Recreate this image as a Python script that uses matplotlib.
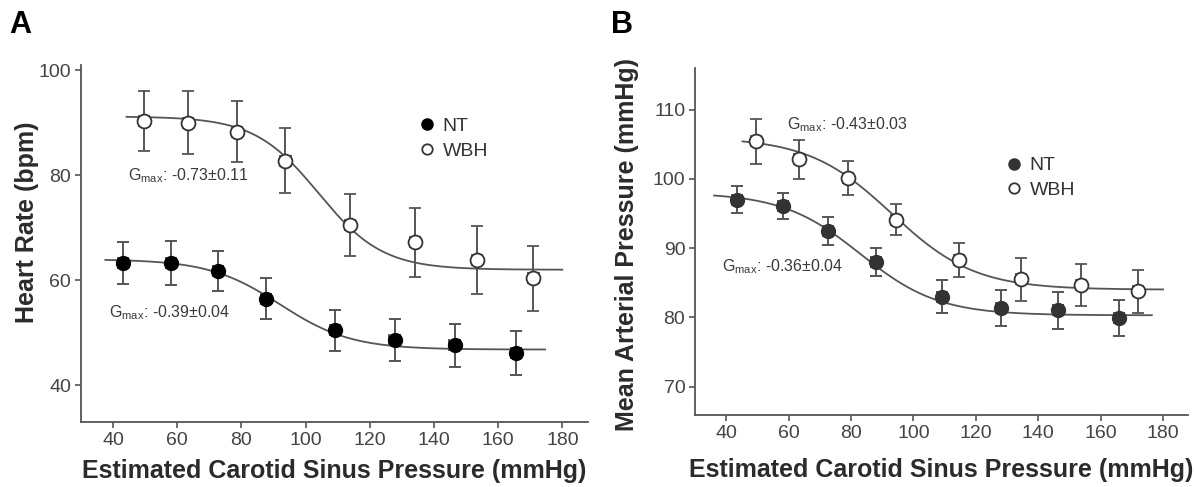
import numpy as np
import matplotlib
matplotlib.use('Agg')
import matplotlib.pyplot as plt
from matplotlib.lines import Line2D

plt.rcParams['font.family'] = ['Liberation Sans', 'DejaVu Sans']
plt.rcParams['mathtext.fontset'] = 'custom'
plt.rcParams['mathtext.rm'] = 'Liberation Sans'
plt.rcParams['mathtext.default'] = 'regular'

# ---- Panel A: heart rate ----
hr_nt_x = [43.2, 58.1, 72.6, 87.7, 109.1, 127.7, 146.4, 165.6]
hr_nt_y = [63.3, 63.2, 61.8, 56.5, 50.5, 48.6, 47.6, 46.1]
hr_nt_err = [4.0, 4.2, 3.8, 3.9, 3.9, 4.0, 4.1, 4.2]
hr_wbh_x = [49.6, 63.4, 78.7, 93.7, 113.9, 134.0, 153.3, 171.0]
hr_wbh_y = [90.3, 90.0, 88.3, 82.8, 70.5, 67.2, 63.9, 60.4]
hr_wbh_err = [5.7, 6.0, 5.8, 6.2, 5.9, 6.5, 6.5, 6.2]
# logistic fit: top, bottom, x50, slope, x range
hr_nt_fit = [64.0, 46.8, 92.0, 0.09, 37.6, 174.6]
hr_wbh_fit = [91.2, 62.0, 104.0, 0.10, 44.2, 180.0]

# ---- Panel B: mean arterial pressure ----
map_nt_x = [43.4, 58.1, 72.6, 88.0, 109.2, 127.9, 146.3, 165.9]
map_nt_y = [97.0, 96.1, 92.5, 88.0, 83.0, 81.4, 81.0, 79.9]
map_nt_err = [2.0, 1.9, 2.0, 2.0, 2.4, 2.6, 2.7, 2.6]
map_wbh_x = [49.6, 63.3, 79.1, 94.5, 114.5, 134.6, 153.8, 172.1]
map_wbh_y = [105.4, 102.8, 100.1, 94.1, 88.3, 85.5, 84.7, 83.8]
map_wbh_err = [3.3, 2.8, 2.5, 2.2, 2.4, 3.1, 3.0, 3.1]
map_nt_fit = [98.0, 80.3, 83.0, 0.08, 36.1, 176.4]
map_wbh_fit = [106.0, 84.0, 93.0, 0.075, 45.2, 180.0]

x_err = 1.6
x_ticks = [40, 60, 80, 100, 120, 140, 160, 180]

grey = '#555555'
txt = '#2b2b2b'


def logistic(p):
    top, bottom, x50, k, x0, x1 = p
    xs = np.linspace(x0, x1, 300)
    return xs, bottom + (top - bottom) / (1 + np.exp(k * (xs - x50)))


def panel(ax, nt, wbh, ntfit, wbhfit, nt_color, leg_xy):
    for fit in (ntfit, wbhfit):
        xs, ys = logistic(fit)
        ax.plot(xs, ys, color=grey, lw=1.3, zorder=2)
    ax.errorbar(nt[0], nt[1], yerr=nt[2], xerr=x_err, fmt='o', ms=10,
                mfc=nt_color, mec=nt_color, ecolor=grey, elinewidth=1.4,
                capsize=4, capthick=1.4, zorder=3)
    ax.errorbar(wbh[0], wbh[1], yerr=wbh[2], xerr=x_err, fmt='o', ms=10,
                mfc='white', mec='#333333', mew=1.3, ecolor=grey,
                elinewidth=1.4, capsize=4, capthick=1.4, zorder=3)
    for s in ('top', 'right'):
        ax.spines[s].set_visible(False)
    for s in ('left', 'bottom'):
        ax.spines[s].set_color(grey)
        ax.spines[s].set_linewidth(1.3)
    ax.tick_params(colors=grey, labelcolor='#444444', labelsize=14,
                   length=4, width=1.2, pad=3)
    ax.set_xticks(x_ticks)
    ax.set_xlim(30, 188)
    ax.set_xlabel('Estimated Carotid Sinus Pressure (mmHg)', fontsize=18,
                  fontweight='bold', color=txt, va='top')
    handles = [
        Line2D([], [], ls='none', marker='o', ms=8, mfc=nt_color, mec=nt_color),
        Line2D([], [], ls='none', marker='o', ms=7.5, mfc='white',
               mec='#333333', mew=1.3),
    ]
    ax.legend(handles, ['NT', 'WBH'], frameon=False, fontsize=14,
              labelcolor='#333333', handlelength=0.8, handletextpad=0.4,
              borderpad=0, borderaxespad=0, labelspacing=0.35,
              loc='upper left', bbox_to_anchor=leg_xy)


fig = plt.figure(figsize=(11.94, 4.87), dpi=100)
ax1 = fig.add_axes([0.0678, 0.1335, 0.4247, 0.733])
ax2 = fig.add_axes([0.5821, 0.1478, 0.4129, 0.7125])

panel(ax1, (hr_nt_x, hr_nt_y, hr_nt_err), (hr_wbh_x, hr_wbh_y, hr_wbh_err),
      hr_nt_fit, hr_wbh_fit, 'black', (0.667, 0.853))
ax1.set_ylim(33, 101)
ax1.set_yticks([40, 60, 80, 100])
ax1.set_ylabel('Heart Rate (bpm)', fontsize=18, fontweight='bold', color=txt)
ax1.yaxis.set_label_coords(-0.083, 0.56)
ax1.xaxis.set_label_coords(0.5, -0.104)
ax1.text(44.8, 80, 'G$_{max}$: -0.73±0.11', fontsize=11.5, color='#3a3a3a',
         va='center')
ax1.text(38.8, 53.8, 'G$_{max}$: -0.39±0.04', fontsize=11.5, color='#3a3a3a',
         va='center')

panel(ax2, (map_nt_x, map_nt_y, map_nt_err), (map_wbh_x, map_wbh_y, map_wbh_err),
      map_nt_fit, map_wbh_fit, '#333333', (0.631, 0.744))
ax2.set_ylim(65.9, 116)
ax2.set_yticks([70, 80, 90, 100, 110])
ax2.set_ylabel('Mean Arterial Pressure (mmHg)', fontsize=18, fontweight='bold',
               color=txt)
ax2.yaxis.set_label_coords(-0.114, 0.49)
ax2.xaxis.set_label_coords(0.5, -0.124)
ax2.text(59.5, 107.8, 'G$_{max}$: -0.43±0.03', fontsize=11.5, color='#3a3a3a',
         va='center')
ax2.text(38.7, 87.3, 'G$_{max}$: -0.36±0.04', fontsize=11.5, color='#3a3a3a',
         va='center')

fig.text(0.008, 0.949, 'A', fontsize=22, fontweight='bold', va='center')
fig.text(0.512, 0.949, 'B', fontsize=22, fontweight='bold', va='center')

fig.savefig('out.png', dpi=100)
